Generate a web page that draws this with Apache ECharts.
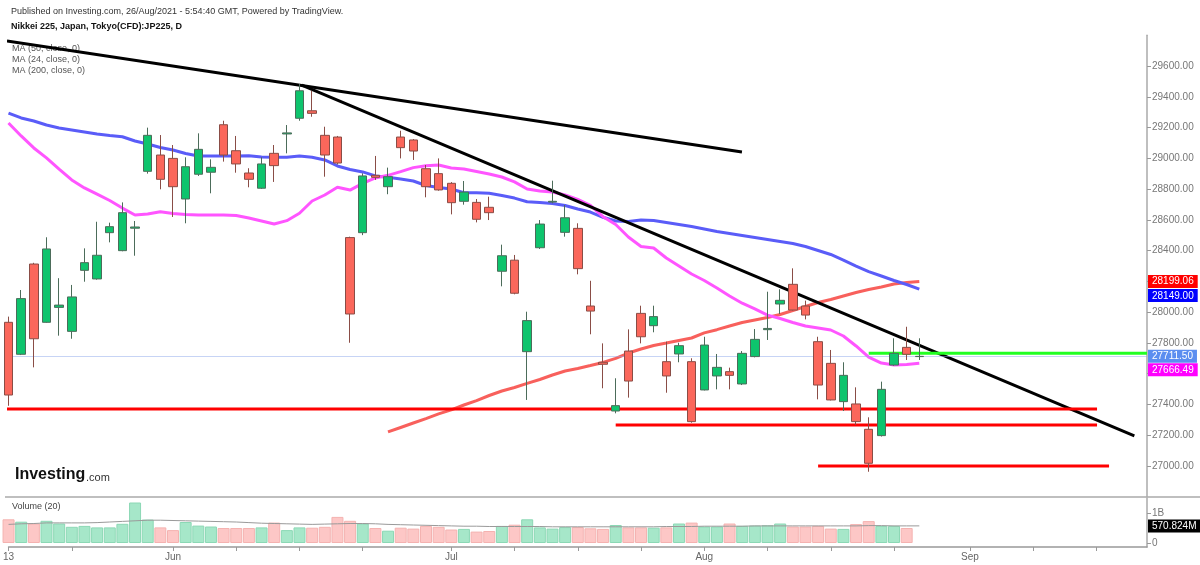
<!DOCTYPE html>
<html>
<head>
<meta charset="utf-8">
<script src="https://cdn.jsdelivr.net/npm/echarts@6/dist/echarts.min.js"></script>
<style>
html, body { margin: 0; padding: 0; background: #fff; }
#main { width: 1200px; height: 565px; }
</style>
</head>
<body>
<div id="main"></div>
<script>
// Nikkei 225 CFD daily, 13 May 2021 - 26 Aug 2021
var opens  = [27933,27725,28312,27933,28030,27874,28271,28215,28516,28399,28545,28915,29021,28999,28735,28896,28909,29218,29049,28904,
              28805,29032,29158,29260,29309,29149,29138,28484,28516,28889,28815,29138,29119,28932,28900,28837,28720,28713,28681,28265,
              28337,27742,28418,28715,28518,28544,28039,27673,27356,27746,27991,27911,27677,27727,27677,27493,27584,27612,27532,27710,
              27885,28052,28180,28039,27807,27666,27417,27402,27237,27196,27655,27770,27710];
var closes = [27460,28087,27826,28410,28045,28098,28321,28369,28555,28646,28553,29149,28863,28815,28945,29058,28941,29021,28963,28863,
              28963,28952,29165,29439,29292,29021,28969,27987,28885,28876,28880,29069,29047,28815,28794,28711,28780,28603,28646,28366,
              28122,27944,28572,28720,28613,28282,28006,27660,27391,27551,27839,27970,27584,27781,27287,27785,27640,27588,27731,27822,
              27893,28076,28013,27980,27525,27428,27588,27287,27016,27497,27731,27725,27711.5];
var lows   = [27390,27720,27640,27930,27846,27826,28197,28210,28453,28395,28366,28900,28798,28618,28577,28885,28772,28978,28906,28811,
              28800,28846,29032,29244,29270,28880,28960,27800,28500,28859,28766,28999,28989,28746,28789,28635,28698,28583,28598,28167,
              28115,27428,28410,28707,28490,28245,27855,27504,27341,27443,27796,27868,27475,27673,27280,27490,27497,27497,27525,27705,
              27818,27987,28010,27952,27432,27425,27356,27265,26961,27190,27650,27688,27688];
var highs  = [27970,28143,28320,28486,28220,28176,28414,28587,28581,28713,28592,29199,29151,29086,29006,29162,28993,29244,29145,28935,
              29006,29086,29216,29483,29439,29205,29145,28490,28902,29015,28939,29179,29125,28956,28999,28845,28852,28735,28750,28438,
              28371,28002,28598,28854,28696,28577,28203,27796,27569,27887,28041,28041,27807,27800,27699,27839,27727,27638,27746,27889,
              28132,28148,28284,28074,27839,27753,27673,27510,27315,27547,27829,27904,27829];

// moving averages as drawn (MA 50 blue, MA 24 magenta, MA 200 salmon)
var ma50  = [29294,29262,29242,29216,29197,29184,29171,29158,29148,29140,29112,29093,29070,29054,29031,29015,29015,29015,29015,29017,
             29008,29006,29006,29015,29006,28989,28950,28927,28911,28885,28876,28865,28852,28823,28810,28800,28776,28776,28773,28758,
             28741,28717,28712,28706,28693,28670,28650,28616,28592,28589,28598,28595,28582,28569,28556,28540,28524,28511,28498,28485,
             28472,28459,28446,28426,28400,28374,28338,28299,28263,28234,28205,28179,28149];
var ma24  = [29229,29145,29067,29002,28930,28859,28807,28767,28725,28676,28631,28637,28652,28641,28634,28631,28631,28631,28628,28611,
             28592,28572,28594,28642,28722,28761,28811,28793,28837,28872,28889,28913,28939,28951,28956,28937,28930,28914,28898,28878,
             28846,28800,28787,28780,28761,28732,28693,28620,28569,28488,28426,28416,28351,28299,28247,28205,28156,28104,28057,28020,
             27980,27958,27932,27909,27896,27883,27844,27779,27707,27668,27655,27659,27666.49];
var ma200 = ['-','-','-','-','-','-','-','-','-','-','-','-','-','-','-','-','-','-','-','-','-','-','-','-','-','-','-','-','-','-',
             27220,27249,27278,27307,27337,27363,27395,27424,27457,27486,27509,27536,27561,27590,27616,27633,27652,27672,27698,27733,
             27759,27782,27798,27815,27831,27864,27885,27909,27932,27948,27964,27984,28010,28036,28062,28081,28104,28127,28146,28163,
             28182,28192,28199.06];

// volume (billions) and its 20-day average
var volumes = [0.79,0.71,0.65,0.74,0.65,0.54,0.57,0.52,0.52,0.64,1.35,0.78,0.52,0.43,0.70,0.58,0.55,0.50,0.50,0.50,
               0.52,0.68,0.43,0.52,0.51,0.54,0.87,0.74,0.65,0.50,0.41,0.51,0.48,0.57,0.54,0.45,0.47,0.38,0.40,0.57,
               0.61,0.79,0.52,0.48,0.53,0.53,0.49,0.47,0.60,0.52,0.52,0.51,0.52,0.65,0.68,0.55,0.55,0.65,0.57,0.58,
               0.59,0.65,0.55,0.55,0.57,0.48,0.47,0.63,0.73,0.57,0.57,0.50,'-'];
var volMa = [0.62,0.64,0.65,0.67,0.67,0.67,0.67,0.68,0.70,0.72,0.74,0.76,0.76,0.75,0.74,0.73,0.72,0.71,0.70,0.68,
             0.66,0.65,0.64,0.63,0.62,0.63,0.64,0.65,0.65,0.64,0.62,0.61,0.60,0.59,0.58,0.57,0.56,0.56,0.55,0.55,
             0.55,0.55,0.55,0.54,0.54,0.54,0.54,0.54,0.54,0.54,0.54,0.54,0.55,0.55,0.55,0.56,0.56,0.56,0.56,0.57,
             0.57,0.57,0.57,0.57,0.57,0.57,0.57,0.57,0.58,0.58,0.57,0.57,0.570824];

// drawn trend / support lines: [bar index, price]
var trendTop   = [[-0.12, 29763], [57.98, 29041]];
var trendDown  = [[23.18, 29476], [89.0, 27194]];
var support1   = [[-0.28, 27369], [86.05, 27369]];
var support2   = [[48.0, 27265], [86.05, 27265]];
var support3   = [[64.0, 26998], [87.0, 26998]];
var resistance = [[68.0, 27731], [90.0, 27731]];

var tickIdx = [0, 5, 13, 18, 23, 28, 35, 40, 45, 50, 55, 60, 65, 70, 76, 81, 86];
var holidays = ['2021-07-22', '2021-07-23', '2021-08-09', '2021-09-20'];
var monthNames = ['Jan','Feb','Mar','Apr','May','Jun','Jul','Aug','Sep','Oct','Nov','Dec'];

// trading days on the axis (incl. empty future slots)
var dates = [];
var d = new Date(Date.UTC(2021, 4, 13));
while (dates.length < 91) {
    var s = d.toISOString().slice(0, 10);
    var wd = d.getUTCDay();
    if (wd !== 0 && wd !== 6 && holidays.indexOf(s) < 0) dates.push(s);
    d.setUTCDate(d.getUTCDate() + 1);
}
function axisText(i) {
    if (i === 0) return String(+dates[0].slice(8, 10));
    if (dates[i].slice(5, 7) !== dates[i - 1].slice(5, 7)) return monthNames[+dates[i].slice(5, 7) - 1];
    return '';
}

var candles = [];
var volBars = [];
for (var i = 0; i < opens.length; i++) {
    candles.push([opens[i], closes[i], lows[i], highs[i]]);
    var up = closes[i] >= opens[i];
    volBars.push({
        value: volumes[i],
        itemStyle: up ? {color: '#a6e7c9', borderColor: '#8cd8b5'} : {color: '#fdc7c6', borderColor: '#f4b2b0'}
    });
}

function tag(value, text, bg, vAlign) {
    return {
        yAxis: value,
        label: {
            show: true, position: 'end', distance: 1, formatter: text,
            backgroundColor: bg, color: '#fff', fontSize: 10, fontFamily: 'Liberation Sans, Arial',
            padding: [2, 4, 1, 4], verticalAlign: vAlign
        }
    };
}
function tagLine(items) {
    return {symbol: 'none', silent: true, lineStyle: {color: 'rgba(0,0,0,0)', width: 0}, data: items};
}
function drawn(data, color) {
    return {
        type: 'line', xAxisIndex: 2, yAxisIndex: 0, data: data, symbol: 'none', silent: true,
        clip: false, lineStyle: {color: color, width: 3}, z: 4
    };
}

var font = 'Liberation Sans, Arial, sans-serif';
var myChart = echarts.init(document.getElementById('main'));
var option = {
    backgroundColor: '#fff',
    animation: false,
    textStyle: {fontFamily: font},
    grid: [
        {left: 8.5, width: 1138.5, top: 35.25, height: 461.25},
        {left: 8.5, width: 1138.5, top: 498, height: 49}
    ],
    xAxis: [
        {type: 'category', gridIndex: 0, data: dates, boundaryGap: false, show: false},
        {
            type: 'category', gridIndex: 1, data: dates, boundaryGap: false,
            axisLine: {onZero: false, lineStyle: {color: '#999', width: 1.5}},
            axisTick: {length: 4, interval: function (idx) { return tickIdx.indexOf(idx) >= 0; }, lineStyle: {color: '#999'}},
            axisLabel: {
                interval: function (idx) { return axisText(idx) !== ''; },
                formatter: function (v, idx) { return axisText(idx); },
                color: '#666', fontSize: 10, margin: 5
            }
        },
        {type: 'value', gridIndex: 0, min: 0, max: 90, show: false}
    ],
    yAxis: [
        {
            type: 'value', gridIndex: 0, position: 'right', min: 26800, max: 29800, interval: 200,
            axisLine: {show: true, onZero: false, lineStyle: {color: '#aaa', width: 1.5}},
            axisTick: {show: true, length: 4, lineStyle: {color: '#999'}},
            axisLabel: {
                color: '#777', fontSize: 10, margin: 5, showMinLabel: false, showMaxLabel: false,
                formatter: function (v) { return v.toFixed(2); }
            },
            splitLine: {show: false}
        },
        {
            type: 'value', gridIndex: 1, position: 'right', min: -0.1333, max: 1.5,
            axisLine: {show: true, onZero: false, lineStyle: {color: '#aaa', width: 1.5}},
            axisTick: {show: true, length: 4, customValues: [0, 1], lineStyle: {color: '#999'}},
            axisLabel: {
                color: '#777', fontSize: 10, margin: 5, customValues: [0, 1],
                formatter: function (v) { return v === 0 ? '0' : '1B'; }
            },
            splitLine: {show: false}
        }
    ],
    series: [
        {
            type: 'bar', xAxisIndex: 1, yAxisIndex: 1, data: volBars, barWidth: 12,
            itemStyle: {borderWidth: 1}, silent: true
        },
        {
            type: 'line', xAxisIndex: 1, yAxisIndex: 1, data: volMa, symbol: 'none', silent: true,
            lineStyle: {color: '#9a9a9a', width: 1}, clip: false,
            markLine: tagLine([tag(0.570824, '570.824M', '#000', 'middle')])
        },
        {
            type: 'line', xAxisIndex: 0, yAxisIndex: 0, data: ma200, symbol: 'none', silent: true, clip: false,
            lineStyle: {color: '#f8605c', width: 3}, z: 3,
            markLine: tagLine([tag(28199.06, '28199.06', '#ff0000', 'middle')])
        },
        {
            type: 'line', xAxisIndex: 0, yAxisIndex: 0, data: ma50, symbol: 'none', silent: true, clip: false,
            lineStyle: {color: '#5a5cf8', width: 3}, z: 3,
            markLine: tagLine([tag(28149.00, '28149.00', '#0000ff', 'top')])
        },
        {
            type: 'line', xAxisIndex: 0, yAxisIndex: 0, data: ma24, symbol: 'none', silent: true, clip: false,
            lineStyle: {color: '#ff55ff', width: 3}, z: 3,
            markLine: tagLine([tag(27666.49, '27666.49', '#ff00ff', 'top')])
        },
        {
            type: 'candlestick', xAxisIndex: 0, yAxisIndex: 0, data: candles, barWidth: 9, clip: false, z: 5,
            itemStyle: {
                color: '#0ec46d', color0: '#fb675b',
                borderColor: '#4c6c5a', borderColor0: '#8a4d46', borderWidth: 1
            },
            markLine: {
                symbol: 'none', silent: true,
                lineStyle: {type: 'dotted', color: '#8ea8ea', width: 1},
                data: [tag(27711.5, '27711.50', '#5b8ef0', 'middle')]
            }
        },
        drawn(trendTop, '#000'),
        drawn(trendDown, '#000'),
        drawn(support1, '#ff0000'),
        drawn(support2, '#ff0000'),
        drawn(support3, '#ff0000'),
        drawn(resistance, '#22ff22')
    ],
    graphic: [
        {type: 'text', left: 11, top: 7, style: {text: 'Published on Investing.com, 26/Aug/2021 - 5:54:40 GMT, Powered by TradingView.', font: '9px ' + font, fill: '#333'}},
        {type: 'text', left: 11, top: 22, style: {text: 'Nikkei 225, Japan, Tokyo(CFD):JP225, D', font: 'bold 9px ' + font, fill: '#111'}},
        {type: 'text', left: 12, top: 44, style: {text: 'MA (50, close, 0)', font: '9px ' + font, fill: '#555'}},
        {type: 'text', left: 12, top: 55, style: {text: 'MA (24, close, 0)', font: '9px ' + font, fill: '#555'}},
        {type: 'text', left: 12, top: 66, style: {text: 'MA (200, close, 0)', font: '9px ' + font, fill: '#555'}},
        {type: 'text', left: 12, top: 502, style: {text: 'Volume (20)', font: '9px ' + font, fill: '#444'}},
        {type: 'text', left: 15, top: 467, style: {text: 'Investing', font: 'bold 16px ' + font, fill: '#111'}},
        {type: 'text', left: 86, top: 472, style: {text: '.com', font: '11px ' + font, fill: '#333'}},
        {type: 'line', shape: {x1: 5, y1: 497, x2: 1200, y2: 497}, style: {stroke: '#aaa', lineWidth: 1.5}}
    ]
};
myChart.setOption(option);
</script>
</body>
</html>
